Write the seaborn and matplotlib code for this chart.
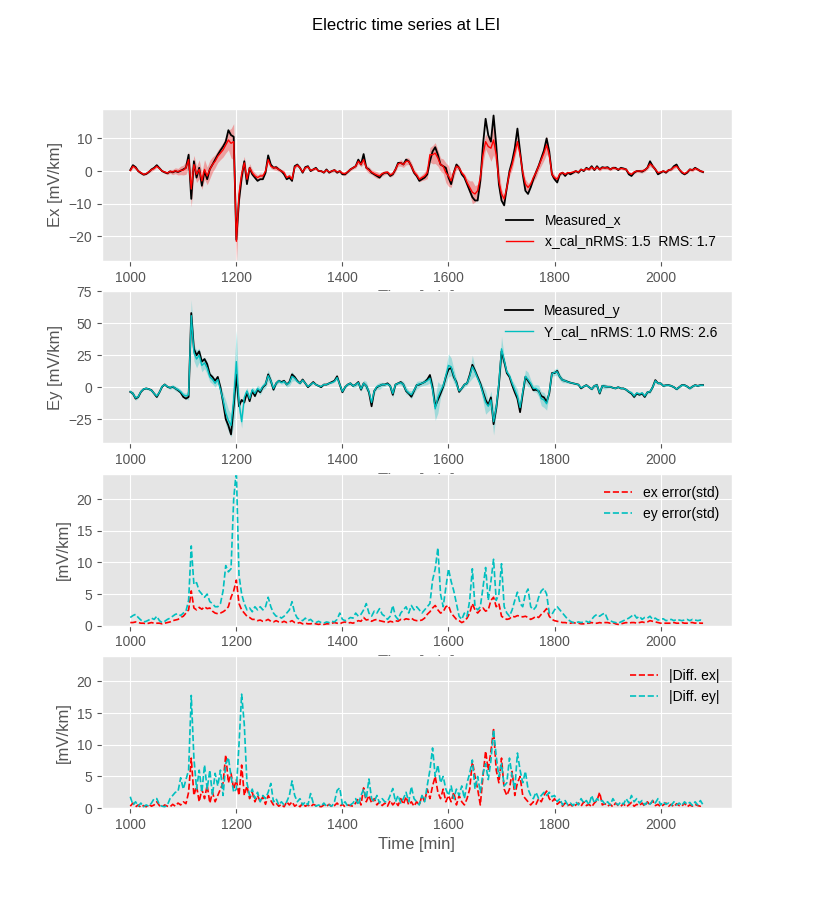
import numpy as np
import matplotlib
matplotlib.use("Agg")
import matplotlib.pyplot as plt
import seaborn as sns

# time axis, 5 min steps from 1000 to 2080
time_min = np.arange(1000, 2081, 5)

# measured / calculated electric field (mV/km), 12 values per hour of minutes
ex_measured = [
    0.3, 1.8, 1.2, 0.0, -0.6, -1.1, -0.9, -0.3, 0.5, 1.0, 1.8, 0.9,
    0.0, -0.4, -0.7, -0.1, -0.4, 0.0, -0.3, 0.1, 0.5, 1.0, 5.0, -8.5,
    3.0, -2.0, 1.0, -4.5, 0.0, -2.5, 0.6, 2.0, 3.5, 5.0, 6.3, 7.5,
    9.0, 12.5, 11.0, 10.5, -21.0, -9.0, -2.0, 3.0, -4.0, 1.0, -1.0, -2.0,
    -3.0, -2.5, -2.5, -0.5, 4.8, 2.0, 1.0, 1.2, 0.5, 0.0, -1.0, -2.5,
    -2.0, -3.0, 1.5, 2.0, 1.0, -0.5, 1.2, 1.5, 0.0, 0.5, 1.0, 0.0,
    0.0, -0.5, 0.5, -0.5, 0.0, 0.3, -0.5, 0.0, -1.0, -1.0, -0.3, 0.5,
    1.0, 1.5, 3.5, 2.0, 5.2, 1.0, 0.5, -0.5, -1.0, -1.5, -2.0, -1.0,
    -0.5, -0.5, -1.5, -1.0, 0.5, 2.5, 2.5, 2.0, 3.5, 3.0, 1.5, -0.5,
    -1.5, -3.0, -2.5, -2.0, -1.0, 3.0, 6.0, 7.3, 5.0, 2.0, 1.5, 1.0,
    -2.0, -4.0, -0.5, 2.0, 1.0, -1.0, -2.0, -4.0, -6.0, -8.0, -9.0, -9.0,
    -3.0, 8.0, 16.0, 11.0, 9.0, 17.0, 8.0, -4.0, -9.0, -10.5, -5.0, 0.0,
    3.0, 7.0, 13.0, 6.0, -1.0, -6.0, -7.0, -5.0, -2.5, -0.4, 1.6, 4.0,
    6.3, 10.0, 6.0, -1.0, -2.5, -3.5, -1.0, -0.5, -1.5, -0.5, -1.0, -0.5,
    0.0, -0.5, 0.5, 0.0, 1.0, 0.5, 1.5, 0.3, 1.5, 0.5, 1.2, 1.0,
    1.2, 0.5, 1.0, 1.0, 0.3, 1.0, 0.8, 0.5, -1.0, -1.5, -0.5, 0.0,
    0.0, -0.2, 0.3, 1.0, 3.0, 1.5, 0.5, -1.0, -0.5, 0.0, -0.5, 0.3,
    0.5, 1.5, 2.0, 0.5, -0.5, -1.0, -0.5, 0.5, 0.3, 1.0, 0.5, 0.0,
    -0.3,
]
ex_cal = [
    0.2, 1.5, 1.0, 0.0, -0.5, -1.0, -0.8, -0.2, 0.4, 0.8, 1.5, 0.8,
    0.0, -0.3, -0.6, -0.1, -0.3, 0.1, -0.2, 0.2, 0.3, 1.0, 3.5, -5.5,
    2.0, -1.0, 0.5, -3.0, 0.5, -1.5, 0.5, 2.0, 3.0, 4.5, 5.5, 6.5,
    8.0, 9.5, 8.5, 9.0, -21.5, -7.0, -1.0, 2.5, -2.5, 1.0, -0.5, -1.5,
    -2.0, -1.5, -1.5, 0.0, 3.5, 1.5, 1.0, 1.0, 0.5, 0.0, -0.5, -2.0,
    -1.5, -2.5, 1.2, 1.8, 1.0, -0.3, 1.0, 1.3, 0.2, 0.5, 0.8, 0.0,
    0.0, -0.4, 0.3, -0.3, 0.0, 0.3, -0.3, 0.0, -0.7, -0.8, -0.2, 0.5,
    1.0, 1.5, 3.0, 2.0, 3.5, 1.0, 0.3, -0.3, -0.8, -1.2, -1.5, -0.8,
    -0.5, -0.3, -1.2, -0.8, 0.5, 2.2, 2.5, 2.0, 3.0, 3.0, 1.5, -0.3,
    -1.2, -2.5, -2.0, -1.5, -0.5, 5.0, 5.0, 5.5, 4.0, 2.0, 1.5, -0.5,
    -1.5, -3.0, -0.5, 1.5, 1.0, -0.5, -1.5, -3.5, -5.0, -6.5, -7.0, -6.0,
    -2.0, 5.0, 9.0, 7.5, 7.0, 9.5, 5.0, -3.0, -7.0, -8.5, -5.0, -0.5,
    2.0, 5.5, 9.0, 5.0, -0.5, -4.0, -5.0, -4.0, -2.0, -0.5, 1.5, 3.5,
    5.5, 8.0, 5.0, -1.0, -2.0, -2.5, -0.8, -0.5, -1.0, -0.5, -0.5, -0.3,
    0.0, -0.3, 0.5, 0.2, 0.8, 0.5, 1.2, 0.5, 1.2, 0.5, 1.0, 1.0,
    1.0, 0.5, 1.0, 0.8, 0.5, 0.8, 0.7, 0.5, -0.6, -1.0, -0.3, 0.0,
    0.0, 0.0, 0.3, 1.0, 2.2, 1.5, 0.5, -0.5, -0.3, 0.0, -0.3, 0.3,
    0.5, 1.2, 1.5, 0.5, -0.3, -0.8, -0.3, 0.5, 0.3, 0.8, 0.5, 0.0,
    -0.2,
]
ey_measured = [
    -3.7, -5.0, -9.0, -7.7, -3.7, -1.6, -1.0, -1.5, -2.4, -5.0, -7.7, -4.0,
    0.3, 2.1, 0.3, -0.5, 0.3, -1.0, -2.4, -4.2, -7.7, -9.0, -7.7, 58.0,
    30.0, 25.0, 28.0, 20.0, 22.0, 18.0, 10.0, 8.0, 5.0, 8.0, 0.0, -12.0,
    -25.0, -30.0, -37.0, -15.0, 10.0, -15.0, -10.0, -12.0, -4.0, -11.0, -3.0, -7.0,
    -2.0, -4.0, 0.0, 2.0, 10.0, 5.0, -2.0, 3.0, 5.0, 4.0, 5.0, 2.0,
    4.0, 10.0, 8.0, 5.0, 3.0, 6.0, 3.0, 0.0, 2.0, 4.0, 2.0, 1.0,
    0.0, 2.0, 2.0, 3.0, 4.0, 5.0, 8.5, 2.0, -4.0, 0.0, 2.0, 3.0,
    1.0, 2.0, 4.0, -2.0, 3.0, 1.0, -4.0, -15.0, -3.0, 0.0, 1.0, 2.0,
    2.0, 3.0, 1.0, -6.0, 2.0, 3.0, 4.0, 2.0, -3.0, -5.0, -7.5, -3.0,
    1.6, 2.0, 3.0, 4.0, 6.0, 9.5, 0.0, -15.0, -10.0, -5.0, 0.3, 8.0,
    14.0, 15.0, 8.0, 4.0, -3.7, -1.0, 2.0, 3.0, 9.5, 17.5, 13.0, 8.0,
    3.0, -3.7, -10.0, -14.0, -8.0, -29.0, -17.0, 1.6, 28.0, 20.0, 11.0, 8.0,
    1.6, -4.0, -9.0, -19.6, -5.0, 8.0, 5.0, 2.0, -2.4, -2.0, -3.0, -7.0,
    -8.0, -11.6, -5.0, 11.0, 11.0, 12.7, 8.0, 5.5, 5.0, 4.2, 3.5, 3.0,
    2.5, 2.0, -1.0, 0.5, 1.6, 0.0, -1.6, 1.0, 1.6, -5.0, 1.0, 0.5,
    0.3, 0.3, -0.5, -1.0, 0.0, -1.0, -1.0, -2.0, -3.7, -5.0, -7.7, -5.0,
    -6.0, -5.0, -7.7, -4.0, -3.7, 0.0, 5.5, 3.0, 3.0, 1.0, 1.5, 1.6,
    1.0, 0.0, -1.6, 0.0, 1.6, 1.6, 0.5, -1.0, 0.5, 1.6, 1.0, 1.6,
    1.6,
]
ey_cal = [
    -3.5, -5.0, -8.5, -7.5, -3.5, -1.5, -1.0, -1.5, -2.5, -5.0, -7.0, -4.0,
    0.5, 2.0, 0.5, -0.5, 0.5, -1.0, -2.0, -3.5, -6.0, -7.0, -6.0, 56.0,
    27.0, 22.0, 25.0, 17.0, 19.0, 15.0, 8.0, 6.0, 3.0, 6.0, -2.0, -10.0,
    -20.0, -26.0, -30.0, -10.0, 20.0, -12.0, -27.0, -8.0, -3.0, -9.0, -2.0, -5.0,
    -1.0, -3.0, 0.5, 2.5, 9.0, 5.0, -1.0, 3.0, 5.0, 3.5, 4.5, 2.0,
    3.5, 8.5, 7.0, 4.5, 3.0, 5.5, 3.0, 0.5, 2.0, 3.5, 2.0, 1.0,
    0.5, 2.0, 2.0, 3.0, 3.5, 4.5, 7.5, 2.0, -3.5, 0.0, 2.0, 3.0,
    1.0, 2.0, 3.5, -1.5, 3.0, 1.0, -3.5, -12.0, -3.0, 0.5, 1.0, 2.0,
    2.0, 2.5, 1.0, -5.0, 2.0, 3.0, 3.5, 2.0, -2.5, -4.5, -6.0, -2.5,
    1.5, 2.5, 3.0, 4.0, 5.0, 7.0, -2.0, -17.0, -8.0, -3.0, 1.0, 9.0,
    17.0, 16.0, 9.0, 3.0, -3.0, -1.0, 2.0, 3.0, 8.5, 16.0, 12.0, 7.0,
    2.0, -5.0, -12.0, -15.0, -10.0, -27.0, -16.0, 3.0, 30.0, 21.0, 12.0, 9.0,
    3.0, -2.0, -7.0, -16.0, -4.0, 8.5, 6.0, 3.0, -1.0, -1.0, -3.0, -9.0,
    -10.0, -13.0, -4.0, 10.5, 11.5, 12.0, 8.0, 5.5, 5.0, 4.0, 3.5, 3.0,
    2.5, 2.0, -0.5, 0.5, 1.5, 0.0, -1.5, 1.0, 1.5, -4.5, 1.0, 0.5,
    0.3, 0.3, -0.5, -1.0, 0.0, -1.0, -1.0, -2.0, -3.5, -4.5, -7.0, -4.5,
    -5.5, -4.5, -7.0, -4.0, -3.5, 0.0, 5.0, 3.0, 3.0, 1.0, 1.5, 1.5,
    1.0, 0.0, -1.5, 0.0, 1.5, 1.5, 0.5, -1.0, 0.5, 1.5, 1.0, 1.5,
    1.5,
]

# ensemble std of the calculated fields
ex_std = [
    0.5, 0.5, 0.6, 0.5, 0.4, 0.4, 0.3, 0.4, 0.5, 0.4, 0.4, 0.4,
    0.3, 0.4, 0.5, 0.6, 0.8, 0.9, 1.0, 1.3, 1.5, 2.0, 2.5, 5.5,
    2.8, 2.5, 2.9, 2.6, 3.0, 2.7, 2.8, 2.3, 2.0, 1.9, 2.0, 2.2,
    2.5, 3.0, 4.5, 5.5, 7.2, 3.5, 2.5, 2.0, 1.5, 1.3, 1.0, 1.0,
    0.8, 0.9, 0.7, 0.8, 1.0, 0.7, 0.6, 0.8, 0.6, 0.5, 0.7, 0.5,
    0.6, 0.8, 0.5, 0.4, 0.5, 0.3, 0.4, 0.3, 0.3, 0.4, 0.3, 0.2,
    0.3, 0.2, 0.3, 0.3, 0.4, 0.5, 0.4, 0.3, 0.5, 0.6, 0.4, 0.5,
    0.4, 0.6, 0.8, 0.7, 1.3, 0.9, 1.0, 0.7, 0.9, 1.0, 0.8, 0.7,
    0.6, 0.5, 0.7, 0.6, 0.8, 0.7, 1.0, 0.9, 1.1, 1.0, 1.2, 0.9,
    0.8, 0.8, 0.9, 1.2, 1.8, 2.2, 2.8, 3.2, 2.5, 2.0, 2.2, 3.0,
    3.2, 2.0, 1.5, 1.0, 0.8, 0.5, 0.7, 1.2, 2.0, 3.5, 2.5, 2.0,
    2.5, 2.8, 2.3, 2.5, 4.0, 4.5, 3.0, 3.5, 1.5, 1.2, 1.0, 1.1,
    1.5, 1.4, 1.6, 1.5, 1.4, 1.5, 1.3, 1.0, 1.2, 1.5, 1.3, 1.8,
    2.2, 2.7, 1.5, 1.0, 0.8, 0.7, 0.6, 0.5, 0.5, 0.4, 0.4, 0.5,
    0.4, 0.4, 0.3, 0.3, 0.4, 0.4, 0.5, 0.4, 0.4, 0.5, 0.4, 0.5,
    0.5, 0.4, 0.5, 0.3, 0.2, 0.3, 0.4, 0.5, 0.4, 0.5, 0.5, 0.4,
    0.5, 0.6, 0.5, 0.6, 0.8, 0.7, 0.6, 0.5, 0.4, 0.4, 0.4, 0.4,
    0.4, 0.5, 0.4, 0.4, 0.5, 0.4, 0.4, 0.5, 0.5, 0.4, 0.5, 0.4,
    0.4,
]
ey_std = [
    1.3, 1.6, 1.8, 1.3, 0.9, 0.6, 0.7, 0.9, 1.2, 1.0, 1.5, 0.8,
    0.5, 0.7, 1.0, 1.2, 1.5, 1.8, 1.9, 1.6, 2.0, 2.3, 4.0, 12.6,
    6.5, 6.8, 5.5, 5.0, 4.5, 5.0, 3.8, 3.5, 3.0, 3.0, 3.5, 5.5,
    9.5, 8.5, 9.0, 20.0, 24.5, 8.0, 5.0, 3.5, 2.5, 2.8, 2.2, 3.0,
    2.5, 3.0, 2.5, 3.0, 4.5, 3.0, 2.0, 1.5, 1.5, 1.2, 1.5, 2.0,
    2.5, 3.8, 2.0, 1.2, 1.0, 0.8, 1.2, 0.8, 1.0, 0.6, 0.5, 0.7,
    0.5, 0.4, 0.6, 0.5, 0.7, 0.6, 1.0, 2.0, 1.0, 0.8, 1.0, 1.3,
    1.2, 2.0, 1.5, 1.8, 2.5, 3.5, 2.0, 1.5, 2.3, 2.0, 2.7, 1.8,
    1.5, 1.0, 1.5, 3.2, 1.5, 1.0, 2.0, 2.5, 3.0, 2.0, 3.2, 2.5,
    3.0, 2.5, 2.0, 2.5, 3.0, 3.5, 7.2, 9.0, 12.3, 5.0, 3.0, 6.0,
    9.0, 7.0, 5.5, 3.5, 1.5, 1.0, 2.0, 1.5, 4.0, 9.0, 3.0, 2.5,
    3.0, 6.0, 9.2, 4.0, 7.0, 10.5, 4.0, 5.0, 9.8, 3.0, 2.0, 1.5,
    2.5, 4.0, 5.3, 3.5, 3.0, 5.0, 5.8, 3.0, 2.5, 3.0, 4.5, 5.5,
    5.9, 5.0, 2.0, 1.8, 2.5, 3.0, 2.5, 2.0, 1.5, 1.0, 0.7, 0.5,
    0.5, 0.6, 0.5, 0.6, 0.7, 0.5, 1.0, 1.5, 1.8, 1.5, 1.8, 2.0,
    1.0, 0.8, 0.6, 0.5, 0.4, 0.6, 0.8, 1.0, 1.2, 1.5, 1.8, 1.2,
    1.5, 1.0, 1.3, 1.2, 1.5, 1.0, 1.2, 0.9, 1.0, 1.1, 0.8, 0.9,
    1.0, 0.8, 1.0, 0.9, 0.8, 0.9, 1.0, 0.8, 1.0, 0.9, 0.8, 0.9,
    0.8,
]

# absolute difference measured vs calculated
diff_ex = [
    0.3, 0.8, 0.2, 0.5, 0.1, 0.4, 0.2, 0.6, 0.3, 0.5, 1.0, 0.4,
    0.2, 0.5, 0.3, 0.2, 0.6, 0.3, 0.8, 0.5, 1.0, 0.7, 2.5, 7.9,
    2.0, 3.5, 1.0, 3.0, 1.5, 3.6, 0.8, 2.5, 1.0, 2.0, 3.0, 4.0,
    8.4, 4.0, 5.5, 3.0, 4.5, 2.0, 6.8, 2.0, 3.5, 1.5, 2.5, 1.0,
    2.0, 1.0, 1.8, 0.6, 2.0, 1.2, 0.5, 0.8, 0.3, 0.6, 0.2, 1.0,
    0.5, 1.0, 0.3, 0.6, 0.2, 0.8, 0.3, 0.5, 0.2, 0.6, 0.4, 0.3,
    0.2, 0.5, 0.3, 0.6, 0.2, 0.4, 0.8, 0.3, 0.6, 0.2, 0.5, 0.4,
    0.3, 0.8, 1.5, 0.5, 3.2, 1.0, 2.0, 0.8, 1.5, 0.5, 1.0, 0.4,
    0.8, 0.3, 1.2, 0.5, 1.0, 0.4, 1.5, 0.6, 1.8, 0.5, 1.0, 0.3,
    1.0, 0.5, 2.0, 1.0, 3.0, 1.5, 3.5, 5.0, 2.5, 1.5, 3.0, 1.0,
    2.0, 1.0, 2.5, 0.5, 2.0, 1.0, 0.5, 1.5, 3.0, 7.4, 5.0, 3.0,
    0.5, 5.0, 9.0, 6.0, 9.0, 12.4, 6.0, 4.0, 7.9, 3.0, 2.0, 3.0,
    5.8, 2.0, 4.0, 5.0, 2.0, 1.5, 1.0, 0.5, 1.0, 0.6, 1.5, 1.0,
    2.0, 2.7, 1.5, 1.0, 1.5, 0.6, 1.0, 0.3, 0.8, 0.4, 0.6, 0.2,
    0.5, 0.8, 0.3, 1.0, 0.4, 0.6, 0.2, 0.8, 1.2, 2.5, 0.5, 0.7,
    0.3, 0.6, 0.2, 0.8, 0.4, 0.3, 0.7, 0.2, 0.5, 0.9, 0.3, 0.6,
    0.4, 0.8, 0.3, 1.0, 0.5, 1.2, 0.4, 0.6, 0.2, 0.5, 0.8, 0.3,
    0.6, 0.2, 0.7, 0.4, 0.3, 0.8, 0.2, 0.5, 0.3, 0.6, 0.4, 0.3,
    0.5,
]
diff_ey = [
    1.8, 0.5, 1.0, 0.3, 0.8, 0.2, 0.5, 0.3, 0.8, 1.5, 1.5, 0.5,
    0.3, 0.2, 0.5, 1.5, 2.0, 2.5, 2.6, 4.8, 3.0, 4.5, 6.0, 17.8,
    7.9, 3.0, 6.0, 2.5, 6.8, 3.0, 6.0, 2.0, 5.5, 3.5, 6.0, 2.0,
    7.0, 8.0, 5.0, 2.5, 3.0, 10.0, 18.0, 13.2, 4.0, 2.0, 3.0, 1.5,
    2.5, 1.0, 2.0, 1.5, 2.5, 3.9, 1.0, 1.5, 0.5, 1.0, 0.5, 1.0,
    2.0, 4.3, 2.0, 1.0, 1.5, 0.5, 1.0, 0.5, 2.3, 0.8, 0.3, 0.5,
    0.3, 0.8, 0.3, 0.5, 0.3, 1.0, 2.8, 3.2, 0.5, 1.0, 0.3, 0.5,
    0.8, 1.5, 0.5, 2.0, 3.0, 1.5, 4.6, 1.5, 1.0, 2.0, 0.8, 1.5,
    1.0, 1.0, 2.0, 3.1, 1.0, 2.0, 0.8, 1.5, 2.5, 1.0, 3.4, 1.5,
    1.0, 0.5, 2.0, 1.0, 3.6, 6.0, 9.5, 5.0, 6.8, 4.0, 5.0, 3.0,
    2.0, 3.5, 1.5, 3.0, 2.0, 3.5, 1.5, 4.0, 5.5, 7.6, 3.0, 5.0,
    2.5, 5.5, 7.0, 4.5, 7.5, 12.4, 8.2, 5.0, 7.0, 3.5, 4.0, 7.9,
    5.0, 3.0, 8.7, 6.0, 4.0, 5.8, 3.0, 2.0, 1.5, 2.5, 1.5, 2.0,
    2.5, 2.0, 2.5, 1.8, 2.0, 1.0, 1.5, 0.5, 1.2, 0.5, 0.8, 0.4,
    1.0, 0.5, 1.5, 0.8, 1.2, 0.5, 2.0, 0.8, 1.5, 1.0, 1.2, 0.6,
    1.0, 0.5, 1.5, 0.8, 0.5, 1.0, 0.6, 1.5, 0.8, 2.0, 1.0, 1.5,
    0.8, 1.2, 0.5, 1.0, 0.6, 1.2, 0.8, 1.5, 0.5, 1.0, 0.6, 0.8,
    0.4, 1.0, 0.5, 0.8, 0.4, 1.0, 0.6, 0.9, 0.4, 1.0, 0.5, 1.2,
    0.5,
]

nrms_x, rms_x = 1.5, 1.7
nrms_y, rms_y = 1.0, 2.6


def make_plot():
    plt.style.use("ggplot")
    plt.rcParams["font.family"] = ["Liberation Sans", "DejaVu Sans"]

    ex_c = np.array(ex_cal)
    ey_c = np.array(ey_cal)
    sx = np.array(ex_std)
    sy = np.array(ey_std)

    fig, axes = plt.subplots(4, 1, figsize=(8.13, 9.08), dpi=100)
    fig.suptitle("Electric time series at LEI", fontsize=12)

    # Ex
    ax = axes[0]
    ax.fill_between(time_min, ex_c - sx, ex_c + sx, color="r", alpha=0.3, lw=0)
    sns.lineplot(x=time_min, y=ex_measured, color="k", lw=1.3, label="Measured_x", ax=ax)
    sns.lineplot(x=time_min, y=ex_cal, color="r", lw=1.0,
                 label=f"x_cal_nRMS: {nrms_x}  RMS: {rms_x}", ax=ax)
    ax.set_ylim(-27.5, 19)
    ax.set_ylabel("Ex [mV/km]")
    ax.legend(loc="lower right", bbox_to_anchor=(0.994, 0.0), frameon=False)

    # Ey
    ax = axes[1]
    ax.fill_between(time_min, ey_c - sy, ey_c + sy, color="c", alpha=0.3, lw=0)
    sns.lineplot(x=time_min, y=ey_measured, color="k", lw=1.3, label="Measured_y", ax=ax)
    sns.lineplot(x=time_min, y=ey_cal, color="c", lw=1.0,
                 label=f"Y_cal_ nRMS: {nrms_y} RMS: {rms_y}", ax=ax)
    ax.set_ylim(-44, 75)
    ax.set_ylabel("Ey [mV/km]")
    ax.legend(loc="upper right", bbox_to_anchor=(0.997, 1.0), frameon=False)

    # std errors
    ax = axes[2]
    sns.lineplot(x=time_min, y=ex_std, color="r", lw=1.2, linestyle="--",
                 label="ex error(std)", ax=ax)
    sns.lineplot(x=time_min, y=ey_std, color="c", lw=1.2, linestyle="--",
                 label="ey error(std)", ax=ax)
    ax.set_ylim(0, 24)
    ax.set_ylabel("[mV/km]")
    ax.legend(loc="upper right", frameon=False)

    # differences
    ax = axes[3]
    sns.lineplot(x=time_min, y=diff_ex, color="r", lw=1.2, linestyle="--",
                 label="|Diff. ex|", ax=ax)
    sns.lineplot(x=time_min, y=diff_ey, color="c", lw=1.2, linestyle="--",
                 label="|Diff. ey|", ax=ax)
    ax.set_ylim(0, 24)
    ax.set_ylabel("[mV/km]")
    ax.legend(loc="upper right", frameon=False)

    for ax in axes:
        ax.set_xlabel("Time [min]")
        ax.set_xticks([1000, 1200, 1400, 1600, 1800, 2000])

    fig.savefig("out.png", dpi=100)
    plt.close(fig)


if __name__ == "__main__":
    make_plot()
